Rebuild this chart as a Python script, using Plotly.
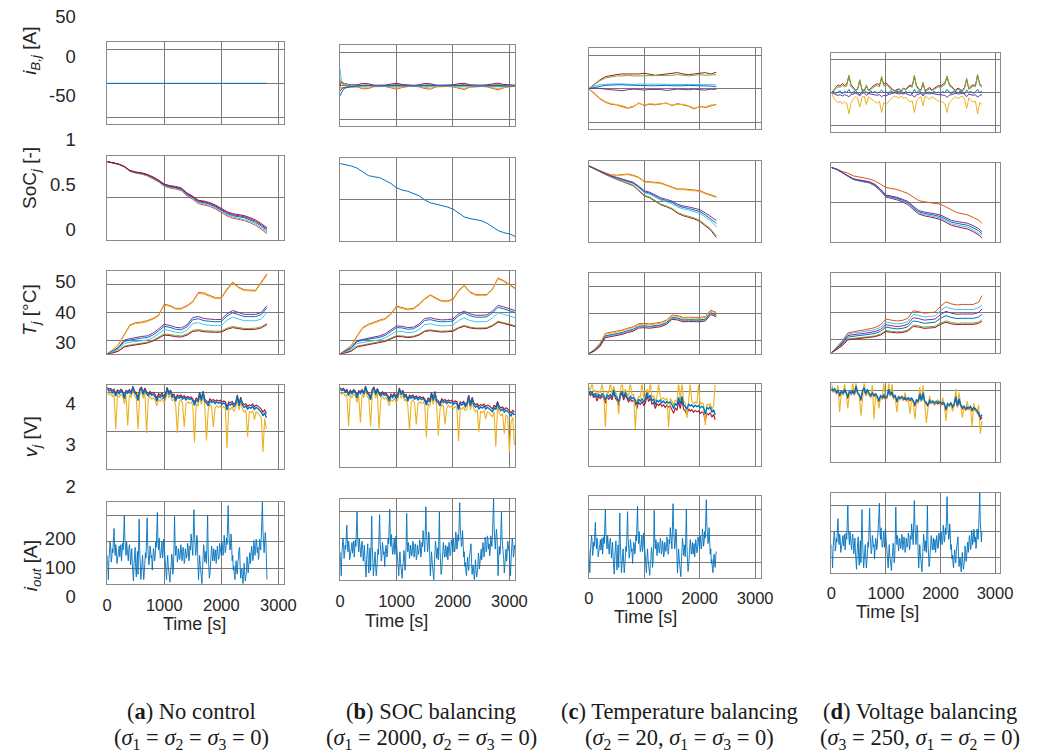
import plotly.graph_objects as go

W, H = 1041, 753

# MATLAB default line colours, one per cell
BLUE = "#0072BD"
ORANGE = "#D95319"
YELLOW = "#EDB120"
PURPLE = "#7E2F8E"
GREEN = "#77AC30"
LBLUE = "#4DBEEE"
RED = "#A2142F"

# ---------------------------------------------------------------- time grids [s]
T10 = list(range(0, 3101, 10))
T30_A = list(range(0, 2791, 30))
T30_B = list(range(0, 3091, 30))
T30_C = list(range(0, 2281, 30))
T30_D = list(range(0, 2761, 30))
T40_D = list(range(0, 2761, 40))
T100_A = list(range(0, 2801, 100))
T100_B = list(range(0, 3101, 100))
T100_C = list(range(0, 2301, 100))
T100_D = list(range(0, 2701, 100)) + [2760]
TIB_A = [0, 2800]
TIB_B = [0, 20, 50, 100, 150, 200] + list(range(300, 3101, 100))

# end of each simulation [s]
END_A, END_B, END_C, END_D = 2800, 3100, 2300, 2760

# ---------------------------------------------------------------- output current i_out [A] (drive cycle, 10 s)
iout = [
    150, 110, 60, 135, 170, 200, 185, 125, 140, 175, 160, 215, 250, 180, 150, 190, 175, 120, 130, 150,
    165, 185, 145, 170, 190, 130, 155, 195, 170, 240, 300, 210, 180, 150, 200, 170, 150, 130, 175, 190,
    160, 115, 140, 175, 120, 80, 55, 120, 150, 180, 100, 70, 130, 165, 80, 190, 285, 170, 120, 60,
    90, 130, 150, 100, 60, 85, 110, 160, 140, 215, 290, 190, 160, 115, 130, 185, 170, 140, 150, 95,
    120, 175, 165, 130, 145, 200, 180, 245, 310, 200, 170, 215, 190, 140, 150, 180, 200, 140, 160, 210,
    180, 140, 120, 80, 60, 115, 150, 110, 90, 65, 50, 95, 110, 155, 140, 80, 100, 170, 295, 190,
    150, 185, 170, 125, 140, 175, 160, 135, 150, 190, 175, 130, 145, 180, 165, 120, 130, 175, 160, 140,
    155, 195, 180, 130, 140, 185, 170, 230, 200, 165, 150, 240, 320, 230, 190, 150, 170, 225, 210, 120,
    60, 105, 150, 115, 90, 55, 45, 95, 130, 190, 170, 125, 140, 165, 120, 200, 300, 160, 110, 65,
    80, 120, 140, 185, 160, 130, 150, 175, 130, 155, 170, 120, 145, 185, 160, 135, 140, 195, 175, 160,
    150, 200, 185, 150, 165, 225, 200, 160, 175, 215, 190, 255, 335, 240, 210, 170, 180, 230, 195, 130,
    150, 95, 110, 75, 60, 105, 130, 90, 80, 125, 140, 175, 180, 110, 65, 90, 100, 70, 45, 85,
    120, 80, 55, 70, 90, 145, 130, 85, 110, 150, 160, 120, 150, 185, 170, 130, 140, 205, 190, 150,
    165, 210, 200, 160, 180, 135, 150, 210, 195, 170, 215, 270, 350, 240, 185, 160, 200, 235, 210, 120,
    60, 130, 170, 140, 150, 230, 300, 200, 180, 140, 120, 70, 90, 130, 160, 115, 140, 190, 175, 155,
    150, 100, 60, 120, 170, 200, 185, 130, 140, 175, 160,
]

# ---------------------------------------------------------------- balancing currents i_B,j [A]
ib_a = [0.0, 0.0]

ib_b_red = [0, 6, 4, 2.5, 2, 1.5,
            1.5, 3.5, 3.0, 1.0, 0.8, 1.0, 2.5, 3.8, 2.0, 1.0, 0.8, 1.5, 3.5, 3.0, 1.0,
            0.8, 1.0, 1.5, 3.0, 3.8, 1.5, 0.8, 1.0, 1.5, 3.0, 4.0, 2.0, 1.0, 1.0]
ib_b_orange = [0, -4, -3, -2.5, -2, -1.8,
               -1.5, -4.5, -4.0, -1.2, -0.8, -1.0, -3.0, -5.0, -2.5, -1.0, -0.8, -1.5, -4.0, -5.0, -1.5,
               -1.0, -1.0, -1.5, -4.0, -5.5, -2.0, -1.0, -1.0, -1.5, -3.5, -6.0, -3.0, -1.2, -1.0]
ib_b_yellow = [0, -5, -3, -2.5, -2, -1.5,
               -1.0, -3.0, -2.8, -0.8, -0.5, -0.6, -2.0, -3.5, -1.8, -0.6, -0.5, -1.0, -2.8, -3.5, -1.0,
               -0.6, -0.6, -1.0, -2.8, -4.0, -1.5, -0.6, -0.6, -1.0, -2.5, -4.2, -2.0, -0.8, -0.6]
ib_b_green = [10, 4, 2, 1, 0.5, 0.3,
              0.5, 1.5, 1.2, 0.3, 0.2, 0.3, 1.0, 1.8, 0.6, 0.2, 0.2, 0.3, 1.5, 1.4, 0.3,
              0.2, 0.2, 0.4, 1.2, 1.8, 0.5, 0.2, 0.3, 0.4, 1.2, 2.0, 0.8, 0.3, 0.2]
ib_b_purple = [-8, -5, -3, -1.5, -1, -0.5,
               0, 0.3, 0.2, 0, 0, 0, 0.3, 0.4, 0, 0, 0, 0, 0.3, 0.4, 0,
               0, 0, 0, 0.3, 0.4, 0, 0, 0, 0, 0.3, 0.4, 0, 0, 0]
ib_b_lblue = [25, 8, 5, 2, 1, 0.5,
              0.5, -1, -0.5, 0.5, 0.3, 0, -1, -1.5, 0, 0.5, 0.3, 0, -1.2, -1, 0.3,
              0.5, 0, 0, -1, -1.5, 0, 0.5, 0, 0, -1, -1.5, 0, 0.5, 0.3]
ib_b_blue = [-15, -10, -6, -3, -1.5, -1,
             -0.5, 0.8, 0.5, -0.3, -0.2, 0, 0.6, 1.0, 0, -0.3, -0.2, 0, 0.8, 0.8, -0.2,
             -0.3, 0, 0, 0.6, 1.0, 0, -0.3, 0, 0, 0.7, 1.0, 0, -0.3, -0.2]

ib_c_red = [0, 7, 13, 18, 20, 21, 22, 22, 21, 22, 23, 22, 20, 21, 22, 23, 24, 22, 21, 22, 23, 24, 22, 24.5]
ib_c_green = [0, 6, 12, 16, 18, 19, 19, 20, 19, 19, 20, 20, 19, 19, 20, 20, 21, 20, 19, 20, 21, 20, 21, 21]
ib_c_lblue = [0, 4, 6, 7, 7, 7.5, 7, 7, 6.5, 7, 7, 6.5, 6, 6.5, 7, 7, 6.5, 6, 6.5, 7, 7, 6.5, 6, 6]
ib_c_blue = [0, 2, 4, 5, 5.5, 6, 6, 5.5, 5, 5, 5, 4.5, 4.5, 5, 5, 4.5, 4, 4.5, 5, 5, 4.5, 4, 4, 3]
ib_c_purple = [0, 1, 0.5, -1, -1.5, -2, -3, -1.5, -0.5, -1, -2, -1, -0.5, -1, -2.5, -1, -0.5, -1, -1.5, -0.5,
               -1, -2, -0.5, -1]
ib_c_orange = [0, -7, -15, -20, -23, -24, -26, -29, -27, -21, -25, -23, -24, -23, -21, -25, -22, -24, -26, -30,
               -26, -28, -25, -23]
ib_c_yellow = [0, -6, -14, -19, -22, -23, -25, -28, -26, -22, -24, -22, -23, -22, -22, -24, -23, -23, -25, -29,
               -27, -27, -24, -24]

ib_d_red = [0, 5, 8, 12, 10, 14, 11, 13, 25, 12,
            8, 4, 6, 18, 5, 3, 9, 4, 6, 10,
            12, 14, 11, 22, 13, 15, 12, 8, 5, 3,
            4, 6, 3, 7, 5, 9, 12, 10, 24, 11,
            6, 4, 14, 3, 5, 8, 4, 6, 9, 11,
            10, 12, 15, 24, 13, 10, 6, 4, 7, 5,
            3, 8, 20, 6, 10, 12, 11, 26, 13, 10]
ib_d_green = [0, 3, 6, 9, 8, 11, 9, 10, 27, 9,
              6, 3, 5, 20, 3, 2, 12, 3, 5, 8,
              10, 11, 9, 25, 10, 12, 10, 6, 4, 2,
              3, 5, 2, 6, 4, 7, 10, 8, 27, 9,
              5, 3, 16, 2, 4, 6, 3, 5, 7, 9,
              8, 10, 12, 26, 11, 8, 5, 3, 5, 4,
              2, 6, 22, 5, 8, 10, 9, 28, 11, 8]
ib_d_yellow = [0, -8, -12, -15, -13, -17, -14, -16, -32, -15,
               -10, -6, -8, -22, -7, -5, -18, -6, -9, -12,
               -14, -16, -13, -30, -15, -18, -14, -10, -7, -5,
               -6, -8, -5, -9, -7, -11, -14, -12, -30, -13,
               -8, -6, -20, -5, -7, -10, -6, -8, -11, -13,
               -12, -14, -17, -30, -15, -12, -8, -6, -9, -7,
               -5, -10, -24, -8, -12, -14, -13, -32, -15, -18]
ib_d_blue = [0, 2, -1, 1, 3, -2, 2, 0, 5, -1,
             1, 3, 0, -3, 2, 4, 1, -2, 3, 0,
             2, -1, 1, 4, 0, 2, -2, 3, 1, 0,
             2, 1, 3, -1, 2, 0, 1, -2, 5, 0,
             3, 1, -3, 2, 0, 1, -1, 2, 0, 1,
             -1, 2, 0, 5, 1, -2, 3, 1, 0, 2,
             1, -2, 4, 0, 2, -1, 1, 5, 0, 2]
ib_d_purple = [0, -2, -3, -4, -3, -5, -3, -4, -6, -3,
               -2, -1, -2, -5, -1, 0, -4, -1, -2, -3,
               -3, -4, -3, -6, -4, -5, -3, -2, -1, 0,
               -1, -2, -1, -2, -1, -3, -4, -3, -7, -3,
               -2, -1, -5, -1, -1, -2, -1, -2, -3, -3,
               -3, -4, -4, -7, -4, -3, -2, -1, -2, -1,
               -1, -2, -6, -2, -3, -4, -3, -7, -4, -3]

# ---------------------------------------------------------------- state of charge SoC_j [-]
soc_a_red = [0.93, 0.916, 0.902, 0.873, 0.825, 0.806, 0.797, 0.778, 0.749, 0.71, 0.662, 0.643, 0.634, 0.615,
             0.556, 0.517, 0.468, 0.459, 0.44, 0.411, 0.372, 0.333, 0.309, 0.295, 0.286, 0.262, 0.233, 0.19, 0.14]
soc_a_purple = [0.93, 0.915, 0.901, 0.872, 0.823, 0.803, 0.794, 0.774, 0.745, 0.705, 0.656, 0.637, 0.627, 0.607,
                0.548, 0.509, 0.459, 0.45, 0.43, 0.4, 0.361, 0.322, 0.297, 0.283, 0.273, 0.249, 0.219, 0.175,
                0.125]
soc_a_blue = [0.93, 0.915, 0.90, 0.87, 0.82, 0.80, 0.79, 0.77, 0.74, 0.70, 0.65, 0.63, 0.62, 0.60, 0.54, 0.50,
              0.45, 0.44, 0.42, 0.39, 0.35, 0.31, 0.285, 0.27, 0.26, 0.235, 0.205, 0.16, 0.11]
soc_a_lblue = [0.93, 0.914, 0.899, 0.868, 0.818, 0.797, 0.786, 0.766, 0.735, 0.694, 0.643, 0.622, 0.612, 0.591,
               0.53, 0.49, 0.439, 0.428, 0.407, 0.377, 0.336, 0.295, 0.27, 0.254, 0.243, 0.218, 0.187, 0.141, 0.09]
soc_a_orange = [0.93, 0.913, 0.897, 0.866, 0.814, 0.793, 0.782, 0.761, 0.729, 0.688, 0.636, 0.615, 0.604, 0.583,
                0.521, 0.48, 0.428, 0.416, 0.395, 0.364, 0.323, 0.282, 0.255, 0.239, 0.228, 0.202, 0.17, 0.123,
                0.07]

soc_b = [0.93, 0.915, 0.90, 0.875, 0.83, 0.785, 0.77, 0.76, 0.725, 0.69, 0.635, 0.61, 0.595, 0.565, 0.54, 0.49,
         0.455, 0.44, 0.425, 0.405, 0.38, 0.33, 0.285, 0.265, 0.25, 0.24, 0.21, 0.17, 0.12, 0.095, 0.08, 0.05]

soc_c_orange = [0.935, 0.91, 0.875, 0.85, 0.825, 0.82, 0.825, 0.835, 0.82, 0.795, 0.745, 0.74, 0.73, 0.725, 0.70,
                0.675, 0.65, 0.65, 0.645, 0.64, 0.63, 0.60, 0.575, 0.555]
soc_c_yellow = [0.935, 0.908, 0.872, 0.845, 0.82, 0.815, 0.82, 0.828, 0.812, 0.788, 0.738, 0.732, 0.722, 0.717,
                0.692, 0.667, 0.642, 0.642, 0.636, 0.63, 0.62, 0.59, 0.565, 0.545]
soc_c_purple = [0.935, 0.908, 0.872, 0.842, 0.812, 0.794, 0.775, 0.757, 0.733, 0.685, 0.628, 0.610, 0.578, 0.540,
                0.522, 0.500, 0.462, 0.440, 0.428, 0.415, 0.395, 0.355, 0.31, 0.26]
soc_c_blue = [0.935, 0.907, 0.871, 0.840, 0.809, 0.790, 0.770, 0.750, 0.725, 0.676, 0.617, 0.598, 0.565, 0.526,
              0.507, 0.484, 0.445, 0.422, 0.409, 0.395, 0.372, 0.330, 0.283, 0.225]
soc_c_lblue = [0.935, 0.907, 0.870, 0.838, 0.806, 0.785, 0.764, 0.743, 0.717, 0.666, 0.605, 0.585, 0.551, 0.511,
               0.491, 0.467, 0.427, 0.403, 0.389, 0.374, 0.350, 0.306, 0.257, 0.18]
soc_c_green = [0.935, 0.906, 0.867, 0.833, 0.799, 0.775, 0.75, 0.726, 0.697, 0.638, 0.573, 0.549, 0.51, 0.465,
               0.44, 0.41, 0.361, 0.331, 0.312, 0.292, 0.262, 0.213, 0.155, 0.065]
soc_c_red = [0.935, 0.905, 0.865, 0.83, 0.795, 0.77, 0.745, 0.72, 0.69, 0.63, 0.565, 0.54, 0.50, 0.455, 0.43, 0.40,
             0.35, 0.32, 0.30, 0.28, 0.25, 0.20, 0.14, 0.05]

soc_d_orange = [0.94, 0.92, 0.89, 0.87, 0.835, 0.82, 0.805, 0.795, 0.77, 0.735, 0.69, 0.675, 0.665, 0.64, 0.615,
                0.57, 0.525, 0.51, 0.50, 0.49, 0.48, 0.445, 0.41, 0.375, 0.36, 0.345, 0.315, 0.28, 0.24]
soc_d_purple = [0.94, 0.916, 0.877, 0.843, 0.799, 0.785, 0.771, 0.762, 0.728, 0.669, 0.595, 0.581, 0.567, 0.543,
                0.514, 0.455, 0.401, 0.382, 0.373, 0.359, 0.345, 0.311, 0.277, 0.263, 0.254, 0.24, 0.211, 0.172,
                0.135]
soc_d_blue = [0.94, 0.915, 0.875, 0.84, 0.795, 0.78, 0.765, 0.755, 0.72, 0.66, 0.585, 0.57, 0.555, 0.53, 0.50,
              0.44, 0.385, 0.365, 0.355, 0.34, 0.325, 0.29, 0.255, 0.24, 0.23, 0.215, 0.185, 0.145, 0.11]
soc_d_lblue = [0.94, 0.915, 0.874, 0.838, 0.792, 0.776, 0.761, 0.75, 0.714, 0.653, 0.577, 0.561, 0.545, 0.519,
               0.488, 0.427, 0.371, 0.35, 0.339, 0.323, 0.307, 0.271, 0.235, 0.219, 0.208, 0.192, 0.161, 0.12, 0.085]
soc_d_red = [0.94, 0.914, 0.872, 0.836, 0.79, 0.773, 0.757, 0.745, 0.708, 0.646, 0.569, 0.552, 0.535, 0.508,
             0.476, 0.414, 0.357, 0.335, 0.323, 0.306, 0.289, 0.252, 0.215, 0.198, 0.186, 0.168, 0.136, 0.093, 0.055]

# ---------------------------------------------------------------- cell temperature T_j [°C]
temp_a_orange = [25, 26.5, 28.5, 32, 35.5, 36.3, 36.5, 37, 37.8, 39, 43, 42.5, 41.5, 41.5, 42.5, 44, 47.3, 47, 46,
                 45.3, 45.3, 48.5, 51, 49.2, 48.2, 48, 48, 51, 54]
temp_a_yellow = [25, 26.4, 28.3, 31.7, 35.2, 36, 36.2, 36.7, 37.5, 38.7, 42.6, 42.2, 41.2, 41.2, 42.2, 43.7, 46.9,
                 46.6, 45.7, 45, 45, 48.1, 50.6, 48.9, 47.9, 47.7, 47.7, 50.6, 53.5]
temp_a_purple = [25, 26, 27.5, 30, 30.5, 31, 31.3, 31.5, 32.5, 34, 35.7, 35.3, 34.6, 34.4, 35.5, 38.2, 38.5, 37.8,
                 37.5, 37.4, 37.5, 39.5, 40.7, 40, 39.3, 39.3, 39.3, 40, 42.5]
temp_a_blue = [25, 25.9, 27.2, 29.5, 30, 30.4, 30.7, 30.9, 31.8, 33.3, 35, 34.6, 33.9, 33.7, 34.8, 37.4, 37.7, 37,
               36.7, 36.6, 36.7, 38.7, 39.9, 39.2, 38.5, 38.5, 38.5, 39.2, 41.7]
temp_a_lblue = [25, 25.7, 26.8, 28.8, 29.2, 29.5, 29.8, 30, 30.8, 32.2, 33.8, 33.4, 32.8, 32.6, 33.6, 36, 36.3,
                35.6, 35.3, 35.2, 35.3, 37.2, 38.3, 37.6, 37, 37, 37, 37.6, 40]
temp_a_green = [25, 25.4, 26.2, 27.8, 28.2, 28.6, 28.9, 29.2, 29.9, 31, 32.2, 32, 31.6, 31.5, 32.2, 33.5, 33.8,
                33.4, 33.2, 33.2, 33.3, 34.3, 34.9, 34.5, 34.2, 34.2, 34.3, 34.8, 36]
temp_a_red = [25, 25.3, 26, 27.5, 27.9, 28.3, 28.6, 28.9, 29.6, 30.6, 31.8, 31.6, 31.2, 31.1, 31.8, 33.1, 33.4, 33,
              32.8, 32.8, 32.9, 33.9, 34.5, 34.1, 33.8, 33.8, 33.9, 34.4, 35.6]

temp_b_orange = [25, 26.5, 28, 31.5, 34.5, 35.7, 36.5, 37.2, 37.8, 39.5, 42.3, 41.8, 41.2, 41.5, 43, 45, 46.4, 45.2,
                 44.2, 44.2, 44.8, 48, 49.8, 47.5, 46.5, 46.4, 46.5, 48.5, 52.5, 51.5, 50.3, 48.8]
temp_b_yellow = [25, 26.4, 27.8, 31.2, 34.2, 35.4, 36.2, 36.9, 37.5, 39.2, 42, 41.5, 40.9, 41.2, 42.7, 44.7, 46.1,
                 44.9, 43.9, 43.9, 44.5, 47.7, 49.5, 47.2, 46.2, 46.1, 46.2, 48.2, 52.2, 51.2, 50, 48.5]
temp_b_purple = [25, 26, 27.3, 29.8, 30.3, 30.8, 31.1, 31.5, 32.3, 33.7, 35.1, 35, 34.5, 34.7, 35.8, 37.8, 38.1,
                 37.6, 37.3, 37.4, 37.6, 39.5, 40.5, 39.5, 39, 39, 39.1, 40.5, 42.6, 42, 41.3, 40.7]
temp_b_blue = [25, 25.9, 27.1, 29.4, 29.9, 30.3, 30.6, 31, 31.7, 33.1, 34.5, 34.4, 33.9, 34.1, 35.2, 37.1, 37.4,
               36.9, 36.6, 36.7, 36.9, 38.8, 39.8, 38.8, 38.3, 38.3, 38.4, 39.8, 41.9, 41.3, 40.6, 40]
temp_b_lblue = [25, 25.7, 26.7, 28.7, 29.1, 29.5, 29.8, 30.1, 30.8, 32, 33.2, 33.1, 32.7, 32.8, 33.8, 35.6, 35.9,
                35.4, 35.1, 35.2, 35.4, 37.1, 38, 37.1, 36.6, 36.6, 36.7, 38, 39.9, 39.3, 38.7, 38.1]
temp_b_green = [25, 25.4, 26.2, 27.8, 28.2, 28.6, 28.9, 29.2, 29.8, 30.7, 31.6, 31.5, 31.2, 31.4, 32.1, 33.4, 33.7,
                33.4, 33.2, 33.3, 33.5, 34.6, 35.3, 34.7, 34.4, 34.4, 34.5, 35.4, 36.8, 36.3, 35.7, 35.2]
temp_b_red = [25, 25.3, 26, 27.5, 27.9, 28.3, 28.6, 28.9, 29.5, 30.4, 31.3, 31.2, 30.9, 31.1, 31.8, 33.1, 33.4,
              33.1, 32.9, 33, 33.2, 34.3, 35, 34.4, 34.1, 34.1, 34.2, 35.1, 36.5, 36, 35.4, 34.9]

temp_c_orange = [25, 26.6, 28.8, 32.6, 33, 33.4, 33.8, 34.5, 35, 36.2, 36.3, 36.1, 36.3, 36.7, 37.5, 39.4, 39.2,
                 38.5, 38.6, 38.6, 38.5, 38.8, 41.2, 40.4]
temp_c_yellow = [25, 26.5, 28.6, 32.3, 32.7, 33.1, 33.5, 34.2, 34.7, 35.9, 36, 35.8, 36, 36.4, 37.2, 39.1, 38.9,
                 38.2, 38.3, 38.3, 38.2, 38.5, 40.9, 40.1]
temp_c_lblue = [25, 26.2, 28, 31.4, 31.8, 32.2, 32.6, 33.3, 33.8, 35, 35.1, 34.9, 35.1, 35.5, 36.3, 38.2, 38, 37.3,
                37.4, 37.4, 37.3, 37.6, 40, 39.2]
temp_c_blue = [25, 26.3, 28.2, 31.7, 32.1, 32.5, 32.9, 33.6, 34.1, 35.3, 35.4, 35.2, 35.4, 35.8, 36.6, 38.5, 38.3,
               37.6, 37.7, 37.7, 37.6, 37.9, 40.3, 39.5]
temp_c_red = [25, 26, 27.7, 31, 31.4, 31.8, 32.2, 32.9, 33.4, 34.6, 34.7, 34.5, 34.7, 35.1, 35.9, 37.8, 37.6, 36.9,
              37, 37, 36.9, 37.2, 39.6, 38.8]

temp_d_orange = [25, 27.2, 29.5, 32.5, 33, 33.3, 33.6, 34, 34.5, 35.5, 37.7, 37.3, 37, 37.2, 38, 40.8, 40.5, 39.9,
                 40.1, 40.3, 42.5, 44.2, 43.4, 43, 43.2, 43.2, 43.2, 44, 46.5]
temp_d_lblue = [25, 27, 29.2, 32, 32.5, 32.7, 33, 33.3, 33.7, 34.6, 36.6, 36.2, 35.9, 36.1, 36.8, 39.4, 39.1, 38.5,
                38.7, 38.9, 40.9, 42.3, 41.6, 41.2, 41.3, 41.3, 41.3, 42, 43]
temp_d_purple = [25, 26.8, 28.8, 31.5, 31.9, 32.1, 32.3, 32.6, 33, 33.8, 35.6, 35.2, 34.9, 35.1, 35.8, 38.2, 37.9,
                 37.3, 37.5, 37.7, 39.4, 40.6, 39.9, 39.5, 39.6, 39.6, 39.6, 40.2, 41.5]
temp_d_blue = [25, 26.6, 28.4, 30.9, 31.3, 31.5, 31.7, 31.9, 32.3, 33.1, 34.7, 34.3, 34, 34.2, 34.8, 37, 36.7, 36.1,
               36.3, 36.5, 38, 39, 38.3, 37.9, 38, 38, 38, 38.5, 39.5]
temp_d_green = [25, 26.3, 27.9, 30.2, 30.5, 30.7, 30.9, 31.1, 31.4, 32.1, 33.4, 33.1, 32.9, 33, 33.6, 35.4, 35.2,
                34.7, 34.9, 35, 36.2, 37, 36.4, 36.1, 36.2, 36.2, 36.2, 36.6, 37.4]
temp_d_red = [25, 26.2, 27.7, 29.9, 30.2, 30.4, 30.6, 30.8, 31.1, 31.7, 33, 32.7, 32.5, 32.6, 33.2, 34.9, 34.7,
              34.2, 34.4, 34.5, 35.7, 36.5, 35.9, 35.6, 35.7, 35.7, 35.7, 36.1, 36.8]

# ---------------------------------------------------------------- cell voltage v_j [V]
volt_a_blue = [4.12, 4.05, 4.08, 4.00, 4.06, 3.92, 4.04, 3.98, 4.07, 4.02,
               3.85, 4.03, 3.99, 4.05, 3.97, 4.15, 4.01, 3.95, 3.80, 4.06,
               4.12, 3.96, 4.10, 3.98, 3.92, 4.00, 3.94, 3.97, 3.90, 3.78,
               3.93, 3.88, 3.95, 3.86, 3.90, 4.12, 3.96, 4.05, 3.89, 3.93,
               3.78, 3.90, 3.86, 3.91, 3.84, 3.88, 3.82, 3.87, 3.83, 3.86,
               3.79, 3.68, 3.82, 3.76, 3.98, 3.80, 4.02, 3.78, 3.74, 3.66,
               3.80, 3.75, 3.78, 3.72, 3.77, 3.73, 3.76, 3.70, 3.74, 3.71,
               3.55, 3.72, 3.68, 3.73, 3.64, 3.70, 3.92, 3.66, 3.85, 3.69,
               3.62, 3.66, 3.58, 3.63, 3.60, 3.65, 3.57, 3.62, 3.59, 3.55,
               3.50, 3.40, 3.48, 3.35]
volt_a_yellow = [4.03, 3.95, 3.99, 3.90, 3.97, 3.05, 3.95, 3.88, 3.97, 3.92,
                 3.72, 3.94, 3.15, 3.96, 3.88, 4.10, 3.92, 3.85, 3.05, 3.97,
                 4.05, 3.86, 4.02, 2.95, 3.82, 3.91, 3.84, 3.88, 3.80, 3.66,
                 3.83, 3.78, 3.86, 3.75, 3.81, 4.06, 3.87, 3.97, 3.79, 3.84,
                 3.66, 2.95, 3.76, 3.82, 3.74, 3.10, 3.72, 3.77, 3.73, 3.76,
                 3.68, 2.70, 3.72, 3.65, 3.90, 3.70, 3.94, 3.68, 2.75, 3.55,
                 3.70, 3.64, 3.10, 3.61, 3.67, 3.62, 3.66, 3.59, 3.64, 3.60,
                 2.55, 3.61, 3.57, 3.63, 3.52, 3.60, 3.84, 3.55, 3.76, 3.58,
                 3.50, 3.55, 2.85, 3.51, 3.48, 3.54, 3.30, 3.50, 3.47, 3.42,
                 3.36, 2.45, 3.33, 3.05]
volt_a_red = [4.15, 4.10, 4.12, 4.06, 4.10, 3.98, 4.08, 4.04, 4.10, 4.06,
              3.92, 4.07, 4.04, 4.09, 4.02, 4.18, 4.05, 4.00, 3.88, 4.10,
              4.16, 4.01, 4.13, 4.03, 3.98, 4.04, 3.99, 4.02, 3.96, 3.86,
              3.98, 3.94, 4.00, 3.92, 3.95, 4.15, 4.00, 4.08, 3.94, 3.97,
              3.85, 3.95, 3.91, 3.95, 3.89, 3.93, 3.87, 3.91, 3.88, 3.90,
              3.85, 3.75, 3.87, 3.82, 4.02, 3.85, 4.05, 3.83, 3.80, 3.73,
              3.85, 3.80, 3.83, 3.78, 3.82, 3.79, 3.81, 3.76, 3.79, 3.77,
              3.63, 3.77, 3.74, 3.78, 3.70, 3.75, 3.95, 3.72, 3.89, 3.74,
              3.69, 3.72, 3.65, 3.69, 3.67, 3.71, 3.64, 3.68, 3.66, 3.62,
              3.58, 3.50, 3.56, 3.46]

volt_b_blue = [4.10, 4.06, 4.09, 4.01, 4.05, 3.93, 4.03, 3.97, 4.06, 4.01,
               3.86, 4.02, 3.98, 4.06, 3.96, 4.16, 4.00, 3.94, 3.81, 4.05,
               4.13, 3.95, 4.09, 3.97, 3.91, 3.99, 3.93, 3.96, 3.89, 3.77,
               3.92, 3.87, 3.94, 3.85, 3.89, 4.10, 3.95, 4.03, 3.88, 3.92,
               3.77, 3.89, 3.85, 3.90, 3.83, 3.87, 3.81, 3.86, 3.82, 3.85,
               3.78, 3.67, 3.81, 3.75, 3.97, 3.79, 4.00, 3.77, 3.73, 3.65,
               3.79, 3.74, 3.77, 3.71, 3.76, 3.72, 3.75, 3.69, 3.73, 3.70,
               3.54, 3.71, 3.67, 3.72, 3.63, 3.69, 3.90, 3.65, 3.84, 3.68,
               3.61, 3.65, 3.57, 3.62, 3.59, 3.64, 3.56, 3.61, 3.58, 3.54,
               3.49, 3.60, 3.55, 3.72, 3.58, 3.52, 3.56, 3.48, 3.53, 3.50,
               3.44, 3.38, 3.47, 3.40]
volt_b_yellow = [4.01, 3.96, 4.00, 3.91, 3.96, 3.10, 3.94, 3.87, 3.96, 3.91,
                 3.74, 3.93, 3.20, 3.97, 3.87, 4.10, 3.91, 3.84, 3.10, 3.96,
                 4.06, 3.85, 4.01, 3.00, 3.81, 3.90, 3.83, 3.87, 3.79, 3.65,
                 3.82, 3.77, 3.85, 3.74, 3.80, 4.04, 3.86, 3.95, 3.78, 3.83,
                 3.65, 3.00, 3.75, 3.81, 3.73, 3.15, 3.71, 3.76, 3.72, 3.75,
                 3.67, 2.80, 3.71, 3.64, 3.89, 3.69, 3.92, 3.67, 2.85, 3.54,
                 3.69, 3.63, 3.15, 3.60, 3.66, 3.61, 3.65, 3.58, 3.63, 3.59,
                 2.70, 3.60, 3.56, 3.62, 3.51, 3.59, 3.82, 3.54, 3.75, 3.57,
                 3.49, 3.54, 2.95, 3.50, 3.47, 3.53, 3.30, 3.49, 3.46, 3.41,
                 3.36, 3.48, 2.55, 3.62, 3.46, 3.38, 3.44, 2.90, 3.40, 3.37,
                 2.40, 3.22, 3.34, 2.60]
volt_b_red = [4.14, 4.09, 4.12, 4.05, 4.09, 3.98, 4.07, 4.02, 4.09, 4.05,
              3.91, 4.06, 4.03, 4.09, 4.00, 4.18, 4.04, 3.99, 3.87, 4.09,
              4.16, 4.00, 4.12, 4.01, 3.96, 4.03, 3.98, 4.00, 3.94, 3.84,
              3.97, 3.92, 3.99, 3.91, 3.94, 4.13, 3.99, 4.07, 3.93, 3.96,
              3.83, 3.94, 3.90, 3.94, 3.88, 3.92, 3.86, 3.90, 3.87, 3.89,
              3.83, 3.74, 3.86, 3.81, 4.01, 3.84, 4.04, 3.82, 3.79, 3.72,
              3.84, 3.79, 3.82, 3.77, 3.81, 3.78, 3.80, 3.75, 3.78, 3.76,
              3.62, 3.76, 3.73, 3.77, 3.69, 3.74, 3.94, 3.71, 3.88, 3.73,
              3.68, 3.71, 3.64, 3.68, 3.66, 3.70, 3.63, 3.67, 3.65, 3.61,
              3.57, 3.66, 3.62, 3.77, 3.64, 3.59, 3.62, 3.55, 3.60, 3.57,
              3.52, 3.46, 3.53, 3.48]

volt_c_blue = [4.02, 3.95, 4.00, 3.90, 3.96, 3.85, 3.93, 3.88, 3.95, 3.90,
               3.78, 3.92, 3.87, 3.93, 3.85, 4.05, 3.90, 3.84, 3.72, 3.94,
               4.02, 3.85, 3.98, 3.86, 3.80, 3.88, 3.82, 3.85, 3.78, 3.66,
               3.80, 3.75, 3.82, 3.73, 3.78, 3.98, 3.83, 3.91, 3.76, 3.80,
               3.65, 3.77, 3.73, 3.78, 3.71, 3.75, 3.69, 3.74, 3.70, 3.73,
               3.66, 3.55, 3.69, 3.63, 3.85, 3.67, 3.88, 3.65, 3.61, 3.53,
               3.67, 3.62, 3.65, 3.59, 3.64, 3.60, 3.63, 3.57, 3.61, 3.58,
               3.40, 3.58, 3.54, 3.60, 3.45, 3.52, 3.38]
volt_c_yellow = [4.12, 4.04, 4.25, 3.99, 4.05, 3.92, 4.02, 3.97, 4.22, 3.99,
                 3.05, 4.01, 3.96, 4.25, 3.94, 4.15, 3.99, 3.93, 3.40, 4.03,
                 4.25, 3.94, 4.07, 3.95, 3.89, 4.25, 3.91, 3.94, 3.00, 3.75,
                 3.89, 3.84, 4.25, 3.82, 3.87, 4.07, 3.92, 4.25, 3.85, 3.89,
                 3.74, 3.86, 4.22, 3.87, 3.80, 3.84, 3.78, 3.83, 3.05, 3.82,
                 3.75, 3.64, 3.78, 3.72, 4.25, 3.76, 4.25, 3.74, 3.70, 3.30,
                 3.76, 4.20, 3.74, 3.68, 3.73, 3.69, 4.18, 3.66, 3.70, 3.67,
                 3.10, 3.67, 3.63, 3.69, 3.54, 3.61, 4.20]
volt_c_red = [3.98, 3.90, 3.95, 3.84, 3.90, 3.75, 3.87, 3.82, 3.88, 3.84,
              3.70, 3.86, 3.80, 3.87, 3.78, 3.99, 3.83, 3.77, 3.62, 3.88,
              3.96, 3.78, 3.92, 3.79, 3.72, 3.81, 3.74, 3.78, 3.70, 3.55,
              3.72, 3.66, 3.74, 3.64, 3.69, 3.90, 3.74, 3.83, 3.67, 3.71,
              3.55, 3.68, 3.63, 3.69, 3.61, 3.65, 3.58, 3.64, 3.59, 3.62,
              3.54, 3.42, 3.57, 3.50, 3.74, 3.55, 3.77, 3.53, 3.48, 3.38,
              3.54, 3.48, 3.52, 3.45, 3.50, 3.46, 3.49, 3.42, 3.46, 3.43,
              3.22, 3.42, 3.38, 3.44, 3.32, 3.39, 3.25]

volt_d_blue = [4.08, 4.00, 4.05, 3.95, 4.01, 3.88, 3.99, 3.93, 4.02, 3.96,
               3.82, 3.98, 3.93, 4.01, 3.91, 4.12, 3.95, 3.89, 3.76, 4.00,
               4.08, 3.90, 4.04, 3.92, 3.86, 3.94, 3.88, 3.91, 3.84, 3.72,
               3.86, 3.81, 3.88, 3.79, 3.84, 4.04, 3.89, 3.97, 3.82, 3.86,
               3.71, 3.83, 3.79, 3.84, 3.77, 3.81, 3.75, 3.80, 3.76, 3.79,
               3.72, 3.61, 3.75, 3.69, 3.91, 3.73, 3.94, 3.71, 3.67, 3.59,
               3.73, 3.68, 3.71, 3.65, 3.70, 3.66, 3.69, 3.63, 3.67, 3.64,
               3.48, 3.64, 3.60, 3.66, 3.56, 3.62, 3.84, 3.58, 3.77, 3.61,
               3.53, 3.57, 3.49, 3.54, 3.51, 3.56, 3.47, 3.52, 3.49, 3.44,
               3.38, 3.25, 3.33]
volt_d_yellow = [4.20, 3.95, 4.00, 3.90, 4.15, 3.40, 3.94, 3.88, 4.18, 3.91,
                 3.50, 3.93, 3.88, 4.22, 3.86, 4.25, 3.90, 3.84, 3.30, 3.95,
                 4.25, 3.85, 3.99, 3.87, 3.81, 4.15, 3.20, 3.86, 3.79, 3.50,
                 3.81, 3.76, 4.20, 3.74, 3.79, 4.22, 3.84, 4.18, 3.77, 3.81,
                 3.40, 3.78, 3.74, 3.79, 3.72, 3.95, 3.70, 3.75, 3.35, 3.74,
                 3.67, 3.20, 3.70, 3.64, 4.10, 3.68, 4.15, 3.66, 3.10, 3.50,
                 3.85, 3.63, 3.66, 3.60, 3.65, 3.75, 3.64, 3.58, 3.80, 3.59,
                 3.15, 3.59, 3.55, 3.61, 3.42, 3.57, 4.05, 3.53, 3.95, 3.56,
                 3.25, 3.52, 3.44, 3.70, 3.46, 3.51, 3.00, 3.65, 3.44, 3.39,
                 3.60, 2.80, 3.15]
volt_d_red = [4.04, 3.97, 4.01, 3.91, 3.97, 3.84, 3.95, 3.89, 3.98, 3.92,
              3.78, 3.94, 3.89, 3.97, 3.87, 4.08, 3.91, 3.85, 3.72, 3.96,
              4.04, 3.86, 4.00, 3.88, 3.82, 3.90, 3.84, 3.87, 3.80, 3.68,
              3.82, 3.77, 3.84, 3.75, 3.80, 4.00, 3.85, 3.93, 3.78, 3.82,
              3.67, 3.79, 3.75, 3.80, 3.73, 3.77, 3.71, 3.76, 3.72, 3.75,
              3.68, 3.57, 3.71, 3.65, 3.87, 3.69, 3.90, 3.67, 3.63, 3.55,
              3.69, 3.64, 3.67, 3.61, 3.66, 3.62, 3.65, 3.59, 3.63, 3.60,
              3.44, 3.60, 3.56, 3.62, 3.52, 3.58, 3.80, 3.54, 3.73, 3.57,
              3.49, 3.53, 3.45, 3.50, 3.47, 3.52, 3.43, 3.48, 3.45, 3.40,
              3.33, 3.18, 3.26]

# ---------------------------------------------------------------- axis set-up
XTICKS = [0, 1000, 2000, 3000]
Y_RANGE = [(-60, 60), (0, 1), (25, 55), (2, 4.2), (42, 350)]
Y_GRID = [[-50, 0, 50], [0.5], [30, 40, 50], [3, 4], [100, 200, 300]]

# left column tick labels: (pixel span, value range, values, texts)
Y_LABELS = [
    ((6, 96), (-56.25, 56.25), [-50, 0, 50], ["-50", "0", "50"]),
    ((128, 233), (-0.065, 1.076), [0, 0.5, 1], ["0", "0.5", "1"]),
    ((274, 349), (27.74, 51.94), [30, 40, 50], ["30", "40", "50"]),
    ((395, 495), (1.835, 4.188), [2, 3, 4], ["2", "3", "4"]),
    ((532, 607), (-27.1, 227.1), [0, 100, 200], ["0", "100", "200"]),
]
Y_TITLES = [
    "<i>i</i><sub><i>B,j</i></sub> [A]",
    "SoC<sub><i>j</i></sub> [-]",
    "<i>T</i><sub><i>j</i></sub> [°C]",
    "<i>v</i><sub><i>j</i></sub> [V]",
    "<i>i</i><sub><i>out</i></sub> [A]",
]
Y_TITLE_POS = [46, 175, 309, 437, 568]

# plot boxes in pixels: column x-span, and y-span per row
COL_X = [(104, 284), (341, 519), (594, 769), (841, 1013)]
ROW_Y = [
    [(37, 120), (152, 237), (269, 353), (385, 470), (503, 587)],
    [(40, 122), (154, 238), (269, 353), (385, 468), (500, 583)],
    [(43, 125), (157, 239), (271, 353), (384, 467), (497, 580)],
    [(48, 128), (159, 240), (271, 352), (383, 463), (494, 575)],
]
TIME_TITLE = [(193, 627), (398, 624), (652, 620), (898, 615)]

CAPTIONS = [
    ("(<b>a</b>) No control",
     "(<i>σ</i><sub>1</sub> = <i>σ</i><sub>2</sub> = <i>σ</i><sub>3</sub> = 0)", 190),
    ("(<b>b</b>) SOC balancing",
     "(<i>σ</i><sub>1</sub> = 2000, <i>σ</i><sub>2</sub> = <i>σ</i><sub>3</sub> = 0)", 434),
    ("(<b>c</b>) Temperature balancing",
     "(<i>σ</i><sub>2</sub> = 20, <i>σ</i><sub>1</sub> = <i>σ</i><sub>3</sub> = 0)", 686),
    ("(<b>d</b>) Voltage balancing",
     "(<i>σ</i><sub>3</sub> = 250, <i>σ</i><sub>1</sub> = <i>σ</i><sub>2</sub> = 0)", 931),
]

SANS = "Liberation Sans, Arial, sans-serif"
SERIF = "Liberation Serif, Times New Roman, serif"
INK = "#262626"
FRAME = "#8a8a8a"
GRID = "#7a7a7a"

fig = go.Figure()


def sid(k):
    return "" if k == 1 else str(k)


def add(row, col, t, y, color, width=1.0):
    if len(t) != len(y):
        raise ValueError(f"row {row} col {col}: {len(t)} times vs {len(y)} values")
    k = row * 4 + col + 1
    fig.add_trace(go.Scatter(
        x=t, y=y, mode="lines", line=dict(color=color, width=width),
        xaxis="x" + sid(k), yaxis="y" + sid(k), hoverinfo="skip", showlegend=False,
    ))


def upto(t, y, end):
    n = sum(1 for v in t if v <= end)
    return t[:n], y[:n]


# row 0: balancing currents
add(0, 0, TIB_A, ib_a, BLUE)
for y, c in [(ib_b_orange, ORANGE), (ib_b_yellow, YELLOW), (ib_b_green, GREEN), (ib_b_red, RED),
             (ib_b_purple, PURPLE), (ib_b_lblue, LBLUE), (ib_b_blue, BLUE)]:
    add(0, 1, TIB_B, y, c)
for y, c in [(ib_c_orange, ORANGE), (ib_c_yellow, YELLOW), (ib_c_red, RED), (ib_c_green, GREEN),
             (ib_c_lblue, LBLUE), (ib_c_blue, BLUE), (ib_c_purple, PURPLE)]:
    add(0, 2, T100_C, y, c)
for y, c in [(ib_d_yellow, YELLOW), (ib_d_red, RED), (ib_d_green, GREEN), (ib_d_purple, PURPLE),
             (ib_d_blue, BLUE)]:
    add(0, 3, T40_D, y, c)

# row 1: state of charge
for y, c in [(soc_a_orange, ORANGE), (soc_a_lblue, LBLUE), (soc_a_blue, BLUE), (soc_a_purple, PURPLE),
             (soc_a_red, RED)]:
    add(1, 0, T100_A, y, c)
add(1, 1, T100_B, soc_b, BLUE)
for y, c in [(soc_c_orange, ORANGE), (soc_c_yellow, YELLOW), (soc_c_red, RED), (soc_c_green, GREEN),
             (soc_c_lblue, LBLUE), (soc_c_blue, BLUE), (soc_c_purple, PURPLE)]:
    add(1, 2, T100_C, y, c)
for y, c in [(soc_d_orange, ORANGE), (soc_d_red, RED), (soc_d_lblue, LBLUE), (soc_d_blue, BLUE),
             (soc_d_purple, PURPLE)]:
    add(1, 3, T100_D, y, c)

# row 2: temperatures
for y, c in [(temp_a_orange, ORANGE), (temp_a_yellow, YELLOW), (temp_a_purple, PURPLE), (temp_a_blue, BLUE),
             (temp_a_lblue, LBLUE), (temp_a_green, GREEN), (temp_a_red, RED)]:
    add(2, 0, T100_A, y, c)
for y, c in [(temp_b_orange, ORANGE), (temp_b_yellow, YELLOW), (temp_b_purple, PURPLE), (temp_b_blue, BLUE),
             (temp_b_lblue, LBLUE), (temp_b_green, GREEN), (temp_b_red, RED)]:
    add(2, 1, T100_B, y, c)
for y, c in [(temp_c_orange, ORANGE), (temp_c_yellow, YELLOW), (temp_c_lblue, LBLUE), (temp_c_blue, BLUE),
             (temp_c_red, RED)]:
    add(2, 2, T100_C, y, c)
for y, c in [(temp_d_orange, ORANGE), (temp_d_lblue, LBLUE), (temp_d_purple, PURPLE), (temp_d_blue, BLUE),
             (temp_d_green, GREEN), (temp_d_red, RED)]:
    add(2, 3, T100_D, y, c)

# row 3: voltages
for col, t, series in [
    (0, T30_A, [(volt_a_red, RED), (volt_a_yellow, YELLOW), (volt_a_blue, BLUE)]),
    (1, T30_B, [(volt_b_red, RED), (volt_b_yellow, YELLOW), (volt_b_blue, BLUE)]),
    (2, T30_C, [(volt_c_red, RED), (volt_c_yellow, YELLOW), (volt_c_blue, BLUE)]),
    (3, T30_D, [(volt_d_red, RED), (volt_d_yellow, YELLOW), (volt_d_blue, BLUE)]),
]:
    for y, c in series:
        add(3, col, t, y, c, 1.4 if c == BLUE else 1.1)

# row 4: output current, same drive cycle cut at each run's end time
for col, end in enumerate([END_A, END_B, END_C, END_D]):
    t, y = upto(T10, iout, end)
    add(4, col, t, y, BLUE, 0.9)

# ---------------------------------------------------------------- axes
layout = {}
for c in range(4):
    x0, x1 = COL_X[c]
    for r in range(5):
        k = r * 4 + c + 1
        y0, y1 = ROW_Y[c][r]
        layout["xaxis" + sid(k)] = dict(
            domain=[x0 / W, x1 / W], range=[0, 3100], anchor="y" + sid(k),
            showline=True, mirror=True, linecolor=FRAME, linewidth=1,
            showgrid=True, gridcolor=GRID, gridwidth=1, zeroline=False,
            tickvals=XTICKS, ticktext=[str(v) for v in XTICKS], ticks="",
            showticklabels=(r == 4), ticklabelstandoff=6,
            tickfont=dict(family=SANS, size=16.5, color=INK), fixedrange=True,
        )
        layout["yaxis" + sid(k)] = dict(
            domain=[1 - y1 / H, 1 - y0 / H], range=list(Y_RANGE[r]), anchor="x" + sid(k),
            showline=True, mirror=True, linecolor=FRAME, linewidth=1,
            showgrid=True, gridcolor=GRID, gridwidth=1, zeroline=False,
            tickvals=Y_GRID[r], ticks="", showticklabels=False, fixedrange=True,
        )

# tick-label axes for the left column
for r, (px, rng, vals, texts) in enumerate(Y_LABELS):
    k = 21 + r
    layout["xaxis" + sid(k)] = dict(domain=[73 / W, 100 / W], range=[0, 1], anchor="y" + sid(k),
                                    visible=False, fixedrange=True)
    layout["yaxis" + sid(k)] = dict(
        domain=[1 - px[1] / H, 1 - px[0] / H], range=list(rng), anchor="x" + sid(k),
        showline=False, showgrid=False, zeroline=False, ticks="",
        tickvals=vals, ticktext=texts, tickfont=dict(family=SANS, size=18.5, color=INK), fixedrange=True,
    )
    fig.add_trace(go.Scatter(x=[None], y=[None], xaxis="x" + sid(k), yaxis="y" + sid(k),
                             mode="lines", showlegend=False, hoverinfo="skip"))

annotations = []
for r in range(5):
    annotations.append(dict(
        text=Y_TITLES[r], x=27 / W, y=1 - Y_TITLE_POS[r] / H, xref="paper", yref="paper",
        textangle=-90, showarrow=False, xanchor="center", yanchor="middle",
        font=dict(family=SANS, size=19, color=INK),
    ))
for (px, py) in TIME_TITLE:
    annotations.append(dict(
        text="Time [s]", x=px / W, y=1 - py / H, xref="paper", yref="paper",
        showarrow=False, xanchor="center", yanchor="middle",
        font=dict(family=SANS, size=18, color=INK),
    ))
for title, params, cx in CAPTIONS:
    annotations.append(dict(
        text=title, x=cx / W, y=1 - 716 / H, xref="paper", yref="paper",
        showarrow=False, xanchor="center", yanchor="middle",
        font=dict(family=SERIF, size=22.5, color="#1a1a1a"),
    ))
    annotations.append(dict(
        text=params, x=cx / W, y=1 - 744 / H, xref="paper", yref="paper",
        showarrow=False, xanchor="center", yanchor="middle",
        font=dict(family=SERIF, size=22.5, color="#1a1a1a"),
    ))

fig.update_layout(
    width=W, height=H, margin=dict(l=0, r=0, t=0, b=0),
    paper_bgcolor="white", plot_bgcolor="white", showlegend=False,
    annotations=annotations, **layout,
)

fig.write_html("out.html")
